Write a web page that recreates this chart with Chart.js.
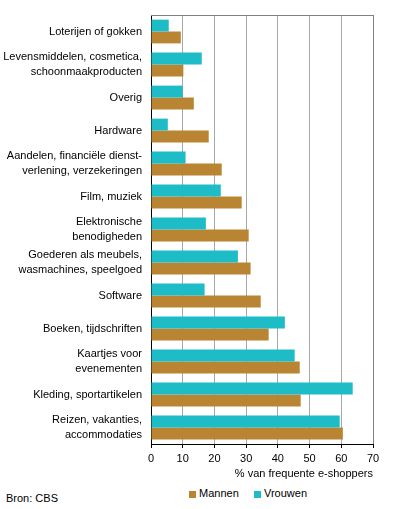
<!DOCTYPE html>
<html>
<head>
<meta charset="utf-8">
<script src="https://cdn.jsdelivr.net/npm/chart.js@4.4.1/dist/chart.umd.min.js"></script>
<style>
  body { margin: 0; background: #fff; font-family: "Liberation Sans", Arial, sans-serif; }
  #wrap { position: relative; width: 396px; height: 509px; }
  #grafiek { position: absolute; left: 0; top: 0; }
  .leg { position: absolute; font-size: 11px; color: #000; line-height: 13px; }
  .vak { position: absolute; width: 7px; height: 7px; }
</style>
</head>
<body>
<div id="wrap">
  <canvas id="grafiek" width="396" height="481"></canvas>
  <div class="vak" style="left:189px; top:491px; background:#b98533;"></div>
  <div class="leg" style="left:199px; top:487px;">Mannen</div>
  <div class="vak" style="left:254px; top:491px; background:#1ebcc6;"></div>
  <div class="leg" style="left:264px; top:487px;">Vrouwen</div>
  <div class="leg" style="left:6px; top:492px;">Bron: CBS</div>
</div>
<script>
  const categorieen = [
    "Loterijen of gokken",
    ["Levensmiddelen, cosmetica,", "schoonmaakproducten"],
    "Overig",
    "Hardware",
    ["Aandelen, financiële dienst-", "verlening, verzekeringen"],
    "Film, muziek",
    ["Elektronische", "benodigheden"],
    ["Goederen als meubels,", "wasmachines, speelgoed"],
    "Software",
    "Boeken, tijdschriften",
    ["Kaartjes voor", "evenementen"],
    "Kleding, sportartikelen",
    ["Reizen, vakanties,", "accommodaties"]
  ];

  const vrouwen = [5.6, 16.0, 10.0, 5.3, 10.9, 22.0, 17.3, 27.4, 16.9, 42.2, 45.3, 63.6, 59.5];
  const mannen  = [9.4, 10.2, 13.5, 18.2, 22.3, 28.6, 30.8, 31.4, 34.6, 37.1, 46.9, 47.2, 60.5];

  const xTicks = [0, 10, 20, 30, 40, 50, 60, 70];

  const lettertype = { family: '"Liberation Sans", Arial, sans-serif', size: 11 };

  // bovenrand van het plotgebied
  const kader = {
    id: "kader",
    afterDatasetsDraw(chart) {
      const { ctx, chartArea } = chart;
      ctx.save();
      ctx.strokeStyle = "#808080";
      ctx.lineWidth = 1;
      ctx.beginPath();
      ctx.moveTo(chartArea.left, chartArea.top + 0.5);
      ctx.lineTo(chartArea.right, chartArea.top + 0.5);
      ctx.stroke();
      ctx.restore();
    }
  };

  new Chart(document.getElementById("grafiek"), {
    type: "bar",
    data: {
      labels: categorieen,
      datasets: [
        { label: "Vrouwen", data: vrouwen, backgroundColor: "#1ebcc6" },
        { label: "Mannen", data: mannen, backgroundColor: "#b98533" }
      ]
    },
    options: {
      indexAxis: "y",
      responsive: false,
      animation: false,
      categoryPercentage: 0.72,
      barPercentage: 1,
      layout: { padding: { top: 15, right: 23, left: 0, bottom: 0 } },
      plugins: {
        legend: { display: false },
        tooltip: { enabled: false }
      },
      scales: {
        x: {
          min: 0,
          max: 70,
          afterBuildTicks(scale) {
            scale.ticks = xTicks.map(v => ({ value: v }));
          },
          afterFit(scale) {
            scale.height = 37;
            scale.paddingLeft = 0;
            scale.paddingRight = 0;
          },
          grid: {
            color: ctx => (ctx.tick && ctx.tick.value === 70 ? "#808080" : "#a8a8a8"),
            tickColor: "#000",
            tickLength: 4
          },
          border: { color: "#000" },
          ticks: { color: "#000", font: lettertype, padding: 4, maxRotation: 0 },
          title: {
            display: true,
            text: "% van frequente e-shoppers",
            align: "end",
            color: "#000",
            font: lettertype,
            padding: { top: 0, bottom: 0 }
          }
        },
        y: {
          afterFit(scale) {
            scale.width = 151;
            scale.paddingTop = 0;
            scale.paddingBottom = 0;
          },
          grid: { display: true, color: "transparent", drawTicks: false },
          border: { color: "#000" },
          ticks: {
            color: "#000",
            font: { family: lettertype.family, size: 11, lineHeight: 1.3 },
            padding: 9
          }
        }
      }
    },
    plugins: [kader]
  });
</script>
</body>
</html>
